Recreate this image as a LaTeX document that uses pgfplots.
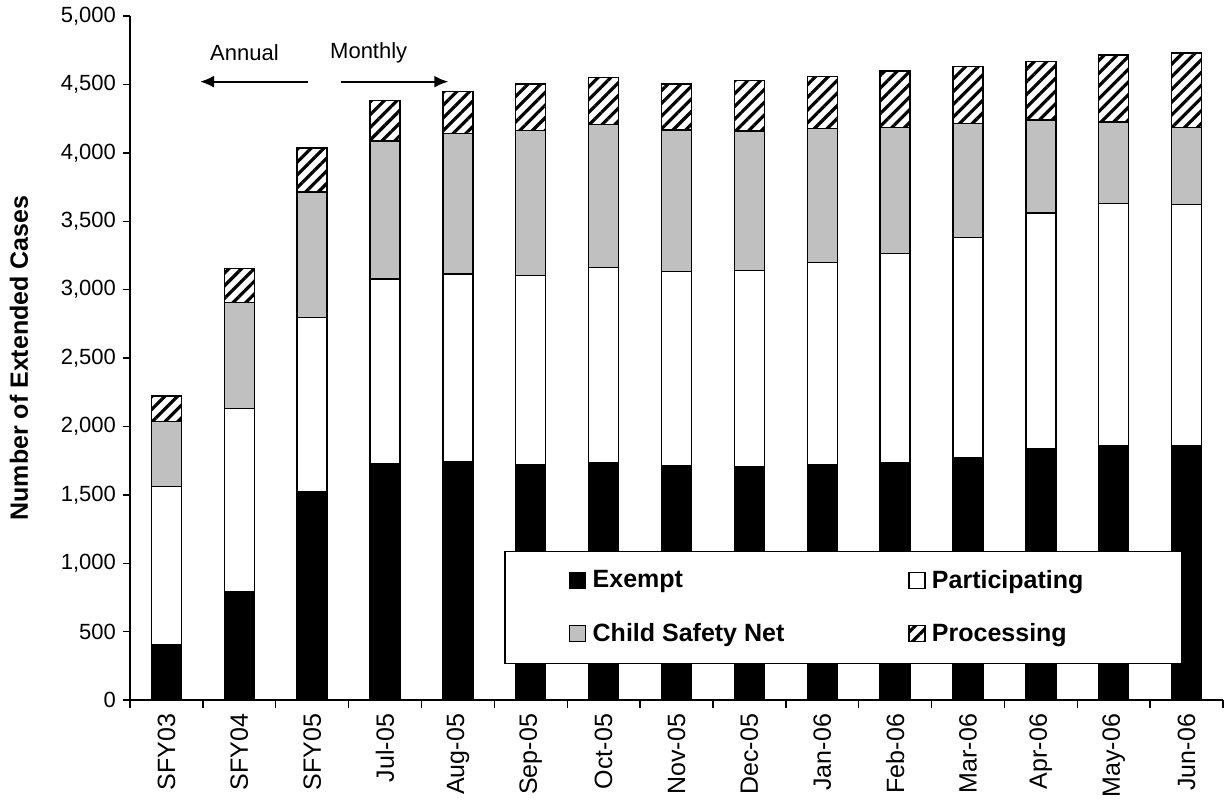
\documentclass[border=0pt]{standalone}
\usepackage{fontspec}
\setmainfont{Liberation Sans}
\usepackage{pgfplots}
\pgfplotsset{compat=1.18}
\usetikzlibrary{patterns.meta, arrows.meta}
\definecolor{csn}{RGB}{192,192,192}

\begin{document}
\begin{tikzpicture}
\path[use as bounding box] (-65pt,-51.5pt) rectangle (547.5pt,350pt);
\begin{axis}[
  at={(0pt,0pt)}, anchor=south west,
  scale only axis, width=546.5pt, height=342pt,
  ybar stacked, bar width=15pt,
  xmin=-0.5, xmax=14.5, ymin=0, ymax=5000,
  axis x line*=bottom, axis y line*=left,
  axis line style={line width=0.7pt, -},
  xtick={0,...,14},
  xticklabels={SFY03,SFY04,SFY05,Jul-05,Aug-05,Sep-05,Oct-05,Nov-05,Dec-05,Jan-06,Feb-06,Mar-06,Apr-06,May-06,Jun-06},
  major x tick style={draw=none},
  minor xtick={-0.5,0.5,...,14.5},
  minor x tick style={line width=0.7pt, black},
  major y tick style={line width=0.7pt, black},
  tick align=outside,
  minor tick length=4pt, major tick length=3.5pt,
  ytick={0,500,...,5000},
  scaled y ticks=false,
  /pgf/number format/assume math mode=true,
  /pgf/number format/1000 sep={,},
  yticklabel style={font=\fontsize{11}{13}\selectfont},
  xticklabel style={rotate=90, anchor=east, font=\fontsize{12.5}{14}\selectfont},
  ylabel={Number of Extended Cases},
  ylabel style={font=\bfseries\fontsize{12.5}{15}\selectfont, at={(axis description cs:-0.1016,0.5)}, anchor=center, rotate=0},
  clip=false,
  legend columns=2,
  legend cell align=left,
  legend style={at={(0.9625,0.0556)}, anchor=south east, draw=black, line width=0.6pt, fill=white,
    inner xsep=32pt, inner ysep=7.5pt, yshift=-1pt, font=\bfseries\fontsize{12.5}{15}\selectfont, row sep=12pt,
    /tikz/every even column/.append style={column sep=60pt}},
  legend image code/.code={\draw[#1, line width=0.6pt] (0pt,-4pt) rectangle (8pt,4pt); \pgfpathmoveto{\pgfqpoint{9.5pt}{0pt}}\pgfusepath{discard}},
]
\addplot[fill=black, draw=black, line width=0.7pt] coordinates {
(0,407) (1,792) (2,1525) (3,1730) (4,1740) (5,1720) (6,1735) (7,1711) (8,1706) (9,1718) (10,1732) (11,1774) (12,1837) (13,1859) (14,1859)};
\addlegendentry{Exempt}
\addplot[fill=white, draw=black, line width=0.7pt] coordinates {
(0,1152) (1,1338) (2,1270) (3,1347) (4,1374) (5,1382) (6,1428) (7,1422) (8,1432) (9,1481) (10,1530) (11,1608) (12,1723) (13,1772) (14,1764)};
\addlegendentry{Participating\hspace*{15pt}}
\addplot[fill=csn, draw=black, line width=0.7pt] coordinates {
(0,477) (1,777) (2,918) (3,1009) (4,1026) (5,1062) (6,1045) (7,1034) (8,1021) (9,980) (10,924) (11,831) (12,680) (13,594) (14,561)};
\addlegendentry{Child Safety Net}
\addplot[draw=black, line width=0.7pt, pattern={Lines[angle=45,distance=4.5pt,line width=1.6pt]}] coordinates {
(0,187) (1,246) (2,322) (3,295) (4,309) (5,339) (6,341) (7,336) (8,368) (9,378) (10,412) (11,419) (12,426) (13,490) (14,546)};
\addlegendentry{Processing}

\node[font=\fontsize{11}{13}\selectfont] at (axis cs:1.071,4730) {Annual};
\node[font=\fontsize{11}{13}\selectfont] at (axis cs:2.776,4730) {Monthly};
\draw[-{Latex[length=7pt,width=6pt]}, line width=1pt] (axis cs:1.939,4520) -- (axis cs:0.461,4520);
\draw[-{Latex[length=7pt,width=6pt]}, line width=1pt] (axis cs:2.396,4520) -- (axis cs:3.868,4520);
\end{axis}
\end{tikzpicture}
\end{document}
